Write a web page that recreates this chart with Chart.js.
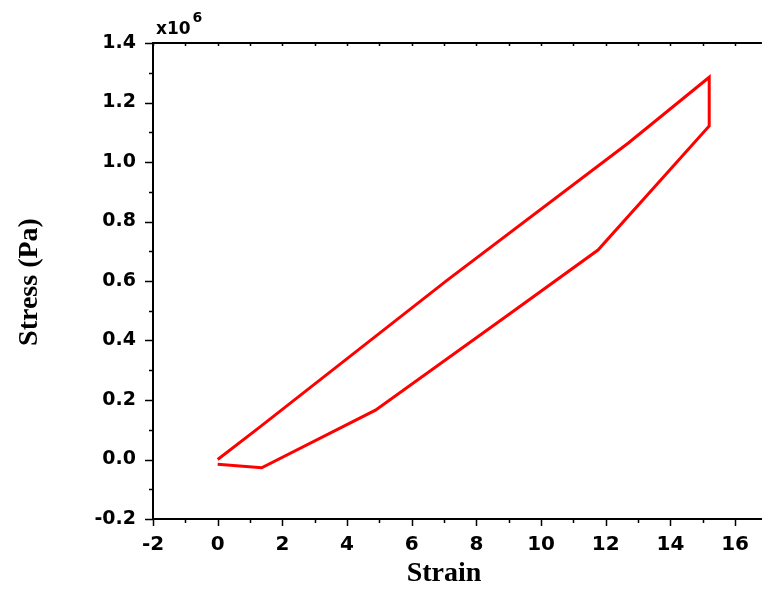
<!DOCTYPE html>
<html>
<head>
<meta charset="utf-8">
<script src="https://cdn.jsdelivr.net/npm/chart.js@4"></script>
<style>
  html, body { margin: 0; padding: 0; background: #fff; }
  #wrap { width: 763px; height: 590px; }
</style>
</head>
<body>
<div id="wrap"><canvas id="chart"></canvas></div>
<script>
// stress is given in units of 10^6 Pa
const strainLoad = [0, 1.3, 7.1, 12.7, 15.2];
const stressLoad = [0, 0.109, 0.603, 1.064, 1.285];
const strainUnload = [15.2, 11.76, 8.98, 4.88, 1.36, 0];
const stressUnload = [1.121, 0.704, 0.486, 0.166, -0.028, -0.016];

const xTickLabels = ['-2', '0', '2', '4', '6', '8', '10', '12', '14', '16'];
const yTickLabels = ['-0.2', '0.0', '0.2', '0.4', '0.6', '0.8', '1.0', '1.2', '1.4'];

const loop = strainLoad.map((s, i) => ({ x: s, y: stressLoad[i] }))
  .concat(strainUnload.map((s, i) => ({ x: s, y: stressUnload[i] })));

const tickFont = { family: 'DejaVu Sans', weight: 'bold', size: 19 };

// frame, minor/major tick marks and the axis titles
const frame = {
  id: 'frame',
  afterDraw(chart) {
    const { ctx, chartArea: a, scales: { x, y } } = chart;
    ctx.save();
    ctx.strokeStyle = '#000';
    ctx.lineWidth = 2;
    ctx.beginPath();
    ctx.moveTo(a.left - 1, a.top);
    ctx.lineTo(a.right, a.top);
    ctx.stroke();

    ctx.lineWidth = 1.5;
    ctx.beginPath();
    for (let v = -2; v <= 16; v++) {
      const px = Math.round(x.getPixelForValue(v)) + 0.5;
      const len = v % 2 === 0 ? 7 : 4;
      ctx.moveTo(px, a.bottom);
      ctx.lineTo(px, a.bottom + len);
      ctx.moveTo(px, a.top);
      ctx.lineTo(px, a.top + 3);
    }
    for (let k = -2; k <= 14; k++) {
      const py = Math.round(y.getPixelForValue(k / 10)) + 0.5;
      const len = k % 2 === 0 ? 8 : 4;
      ctx.moveTo(a.left, py);
      ctx.lineTo(a.left - len, py);
    }
    ctx.stroke();

    ctx.fillStyle = '#000';
    ctx.textBaseline = 'alphabetic';
    ctx.font = 'bold 17px "DejaVu Sans"';
    ctx.textAlign = 'left';
    ctx.fillText('x10', 156, 34);
    const w = ctx.measureText('x10').width;
    ctx.font = 'bold 14px "DejaVu Sans"';
    ctx.fillText('6', 156 + w + 2, 22);

    ctx.font = 'bold 28px "Liberation Serif"';
    ctx.textAlign = 'center';
    ctx.fillText('Strain', 444, 581);
    ctx.translate(37, 282);
    ctx.rotate(-Math.PI / 2);
    ctx.fillText('Stress (Pa)', 0, 0);
    ctx.restore();
  }
};

new Chart(document.getElementById('chart'), {
  type: 'scatter',
  data: {
    datasets: [{
      data: loop,
      showLine: true,
      borderColor: '#ff0000',
      borderWidth: 3,
      pointRadius: 0,
      tension: 0,
      fill: false
    }]
  },
  options: {
    responsive: true,
    maintainAspectRatio: false,
    animation: false,
    layout: { padding: { top: 43, right: 0, bottom: 0, left: 0 } },
    plugins: { legend: { display: false }, tooltip: { enabled: false } },
    scales: {
      x: {
        type: 'linear',
        min: -2,
        max: 16.83,
        grid: { display: false, drawTicks: false },
        border: { display: true, color: '#000', width: 2 },
        ticks: {
          stepSize: 2,
          includeBounds: false,
          maxRotation: 0,
          padding: 14,
          color: '#000',
          font: { family: 'DejaVu Sans', weight: 'bold', size: 20 },
          callback: v => xTickLabels[Math.round((v + 2) / 2)] ?? ''
        },
        afterFit: s => { s.height = 71; }
      },
      y: {
        min: -0.2,
        max: 1.4,
        grid: { display: false, drawTicks: false },
        border: { display: true, color: '#000', width: 2 },
        ticks: {
          stepSize: 0.2,
          includeBounds: false,
          padding: 17,
          color: '#000',
          font: tickFont,
          callback: v => yTickLabels[Math.round((v + 0.2) / 0.2)] ?? ''
        },
        afterFit: s => { s.width = 153; }
      }
    }
  },
  plugins: [frame]
});
</script>
</body>
</html>
